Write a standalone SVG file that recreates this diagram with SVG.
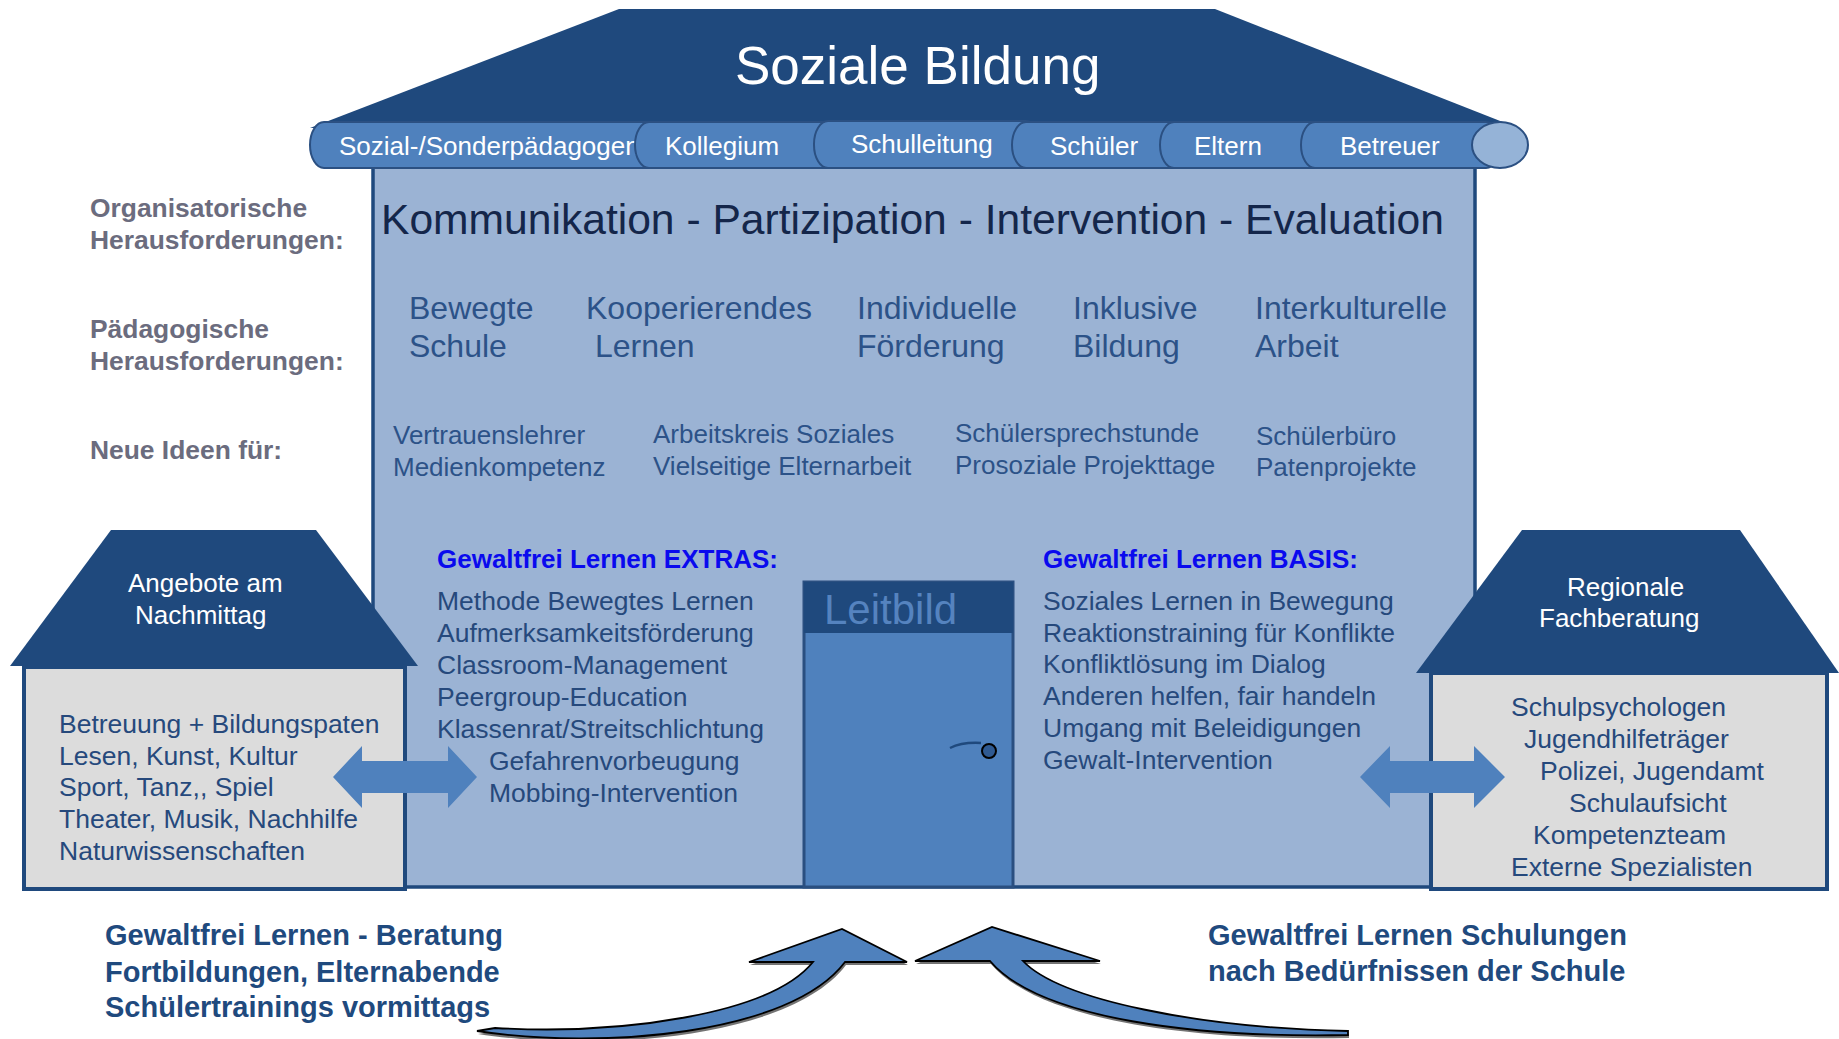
<svg xmlns="http://www.w3.org/2000/svg" width="1839" height="1039" viewBox="0 0 1839 1039">
<style>
text{font-family:"Liberation Sans",Arial,Helvetica,sans-serif}
.navy{fill:#1f497d}
.seg{fill:#4f81bd;stroke:#2b5082;stroke-width:2}
.segt{fill:#fff;font-size:26px}
.lab{fill:#6b6c7e;font-size:26.4px;font-weight:bold}
.row2{fill:#2c5288;font-size:32px}
.row3{fill:#2c5288;font-size:26px}
.list{fill:#26497c;font-size:26.5px}
.head{fill:#0a0aee;font-size:26px;font-weight:bold}
.bot{fill:#1f4a7e;font-size:29px;font-weight:bold}
.house{fill:#dcdcdc;stroke:#1f497d;stroke-width:4}
.wt{fill:#fff;font-size:26px}
.dbl{fill:#4f81bd}
.curve{fill:#4f81bd;stroke:#000;stroke-width:1.8;stroke-linejoin:miter}
.shadow{fill:#000;opacity:0.55}
</style>

<g id="main-house">
  <polygon id="roof" class="navy" points="619,9 1215,9 1518,128 310,128"/>
  <rect id="body" x="373" y="165" width="1102" height="722" fill="#9bb3d4" stroke="#1f497d" stroke-width="3.5"/>
  <text x="735" y="84" fill="#fff" font-size="53">Soziale Bildung</text>
</g>

<g id="stakeholders">
  <g id="seg-sozial"><rect class="seg" x="310" y="122" width="353" height="46" rx="14" ry="23"/>
    <text class="segt" x="339" y="155">Sozial-/Sonderpädagogen</text></g>
  <g id="seg-kollegium"><rect class="seg" x="635" y="122" width="207" height="46" rx="14" ry="23"/>
    <text class="segt" x="665" y="155">Kollegium</text></g>
  <g id="seg-schulleitung"><rect class="seg" x="814" y="121" width="226" height="47" rx="14" ry="23"/>
    <text class="segt" x="851" y="153">Schulleitung</text></g>
  <g id="seg-schueler"><rect class="seg" x="1012" y="122" width="176" height="46" rx="14" ry="23"/>
    <text class="segt" x="1050" y="155">Schüler</text></g>
  <g id="seg-eltern"><rect class="seg" x="1160" y="122" width="169" height="46" rx="14" ry="23"/>
    <text class="segt" x="1194" y="155">Eltern</text></g>
  <g id="seg-betreuer"><rect class="seg" x="1301" y="122" width="199" height="46" rx="14" ry="23"/>
    <ellipse cx="1500" cy="145" rx="28" ry="23" fill="#95b3d7" stroke="#2b5082" stroke-width="2"/>
    <text class="segt" x="1340" y="155">Betreuer</text></g>
</g>

<g id="labels">
  <text class="lab" x="90" y="217">Organisatorische</text>
  <text class="lab" x="90" y="249">Herausforderungen:</text>
  <text class="lab" x="90" y="338">Pädagogische</text>
  <text class="lab" x="90" y="370">Herausforderungen:</text>
  <text class="lab" x="90" y="459">Neue Ideen für:</text>
</g>

<g id="challenges">
  <text x="381" y="234" fill="#14264a" font-size="42.6">Kommunikation - Partizipation - Intervention - Evaluation</text>
  <text class="row2" x="409" y="319">Bewegte</text>
  <text class="row2" x="409" y="357">Schule</text>
  <text class="row2" x="586" y="319">Kooperierendes</text>
  <text class="row2" x="595" y="357">Lernen</text>
  <text class="row2" x="857" y="319">Individuelle</text>
  <text class="row2" x="857" y="357">Förderung</text>
  <text class="row2" x="1073" y="319">Inklusive</text>
  <text class="row2" x="1073" y="357">Bildung</text>
  <text class="row2" x="1255" y="319">Interkulturelle</text>
  <text class="row2" x="1255" y="357">Arbeit</text>
  <text class="row3" x="393" y="444">Vertrauenslehrer</text>
  <text class="row3" x="393" y="476">Medienkompetenz</text>
  <text class="row3" x="653" y="443">Arbeitskreis Soziales</text>
  <text class="row3" x="653" y="475">Vielseitige Elternarbeit</text>
  <text class="row3" x="955" y="442">Schülersprechstunde</text>
  <text class="row3" x="955" y="474">Prosoziale Projekttage</text>
  <text class="row3" x="1256" y="445">Schülerbüro</text>
  <text class="row3" x="1256" y="476">Patenprojekte</text>
</g>

<g id="extras">
  <text class="head" x="437" y="568">Gewaltfrei Lernen EXTRAS:</text>
  <text class="list" x="437" y="610">Methode Bewegtes Lernen</text>
  <text class="list" x="437" y="642">Aufmerksamkeitsförderung</text>
  <text class="list" x="437" y="674">Classroom-Management</text>
  <text class="list" x="437" y="706">Peergroup-Education</text>
  <text class="list" x="437" y="738">Klassenrat/Streitschlichtung</text>
  <text class="list" x="489" y="770">Gefahrenvorbeugung</text>
  <text class="list" x="489" y="802">Mobbing-Intervention</text>
</g>

<g id="basis">
  <text class="head" x="1043" y="568">Gewaltfrei Lernen BASIS:</text>
  <text class="list" x="1043" y="610">Soziales Lernen in Bewegung</text>
  <text class="list" x="1043" y="642">Reaktionstraining für Konflikte</text>
  <text class="list" x="1043" y="673">Konfliktlösung im Dialog</text>
  <text class="list" x="1043" y="705">Anderen helfen, fair handeln</text>
  <text class="list" x="1043" y="737">Umgang mit Beleidigungen</text>
  <text class="list" x="1043" y="769">Gewalt-Intervention</text>
</g>

<g id="door">
  <rect x="804" y="582" width="209" height="305" fill="#4f81bd" stroke="#2a4f80" stroke-width="3"/>
  <rect x="804" y="582" width="209" height="51" fill="#1f497d"/>
  <text x="824" y="624" fill="#5583bf" font-size="42">Leitbild</text>
  <path d="M950,748 Q962,742 981,743" fill="none" stroke="#1f497d" stroke-width="2.5"/>
  <circle cx="989" cy="751" r="7" fill="#2f5a92" stroke="#000" stroke-width="2"/>
</g>

<g id="house-left">
  <polygon class="navy" points="111,530 316,530 418,666 10,666"/>
  <rect class="house" x="24" y="667" width="381" height="222"/>
  <text class="wt" x="128" y="592">Angebote am</text>
  <text class="wt" x="135" y="624">Nachmittag</text>
  <text class="list" x="59" y="733">Betreuung + Bildungspaten</text>
  <text class="list" x="59" y="765">Lesen, Kunst, Kultur</text>
  <text class="list" x="59" y="796">Sport, Tanz,, Spiel</text>
  <text class="list" x="59" y="828">Theater, Musik, Nachhilfe</text>
  <text class="list" x="59" y="860">Naturwissenschaften</text>
</g>

<g id="house-right">
  <polygon class="navy" points="1522,530 1740,530 1839,673 1416,673"/>
  <rect class="house" x="1431" y="673" width="396" height="216"/>
  <text class="wt" x="1567" y="596">Regionale</text>
  <text class="wt" x="1539" y="627">Fachberatung</text>
  <text class="list" x="1511" y="716">Schulpsychologen</text>
  <text class="list" x="1524" y="748">Jugendhilfeträger</text>
  <text class="list" x="1540" y="780">Polizei, Jugendamt</text>
  <text class="list" x="1569" y="812">Schulaufsicht</text>
  <text class="list" x="1533" y="844">Kompetenzteam</text>
  <text class="list" x="1511" y="876">Externe Spezialisten</text>
</g>

<g id="connectors">
  <polygon class="dbl" points="333,777 362,746 362,761 448,761 448,746 477,777 448,808 448,793 362,793 362,808"/>
  <polygon class="dbl" points="1360,777 1390,746 1390,761 1474,761 1474,746 1505,777 1474,808 1474,793 1390,793 1390,808"/>
  <path class="shadow" transform="translate(1,3)" d="M477,1031 C600,1050 790,1035 845,962 L907,962 L842,929 L749,962 L813,962 C770,1015 620,1035 495,1028 Z"/>
  <path class="curve" d="M477,1031 C600,1050 790,1035 845,962 L907,962 L842,929 L749,962 L813,962 C770,1015 620,1035 495,1028 Z"/>
  <path class="shadow" transform="translate(1,3)" d="M1348,1035 C1200,1038 1040,1020 990,961 L915,961 L992,927 L1100,961 L1023,961 C1060,1000 1200,1028 1348,1031 Z"/>
  <path class="curve" d="M1348,1035 C1200,1038 1040,1020 990,961 L915,961 L992,927 L1100,961 L1023,961 C1060,1000 1200,1028 1348,1031 Z"/>
</g>

<g id="bottom-texts">
  <text class="bot" x="105" y="945">Gewaltfrei Lernen - Beratung</text>
  <text class="bot" x="105" y="982">Fortbildungen, Elternabende</text>
  <text class="bot" x="105" y="1017">Schülertrainings vormittags</text>
  <text class="bot" x="1208" y="945">Gewaltfrei Lernen Schulungen</text>
  <text class="bot" x="1208" y="981">nach Bedürfnissen der Schule</text>
</g>
</svg>
